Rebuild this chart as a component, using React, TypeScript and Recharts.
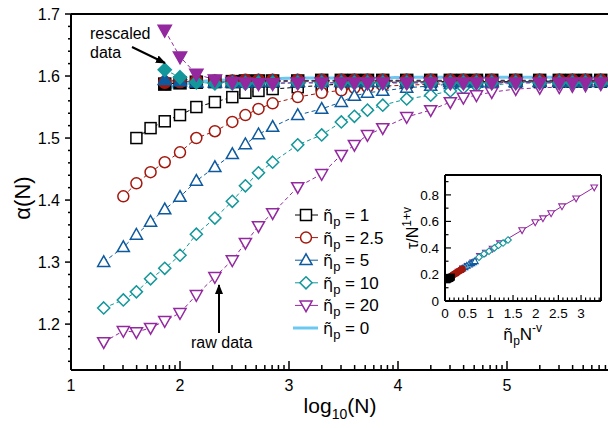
import React from "react";
import { ComposedChart, Line, XAxis, YAxis, ReferenceLine } from "recharts";

const FONT = "'Liberation Sans', Arial, Helvetica, sans-serif";
const ETA_FONT = "'DejaVu Sans', 'Liberation Sans', sans-serif";

// log10(N) positions shared by all series of the main plot
const logN = [
  1.3, 1.48, 1.6, 1.73, 1.86, 2.0, 2.15, 2.32, 2.48, 2.6, 2.72, 2.85, 3.08, 3.3, 3.48,
  3.6, 3.72, 3.86, 4.08, 4.3, 4.48, 4.6, 4.72, 4.86, 5.08, 5.3, 5.48, 5.6, 5.72, 5.86,
];

// raw data (open symbols)
const raw1 = [
  null, null, 1.5, 1.516, 1.527, 1.537, 1.55, 1.558, 1.566, 1.573, 1.576, 1.579, 1.582, 1.585, 1.587,
  1.589, 1.589, 1.59, 1.59, 1.591, 1.591, 1.591, 1.591, 1.591, 1.591, 1.591, 1.591, 1.591, 1.591, 1.591,
];
const raw25 = [
  null, 1.406, 1.427, 1.445, 1.461, 1.477, 1.5, 1.511, 1.526, 1.537, 1.547, 1.556, 1.566, 1.573, 1.577,
  1.581, 1.582, 1.584, 1.585, 1.587, 1.587, 1.589, 1.589, 1.589, 1.59, 1.59, 1.59, 1.59, 1.59, 1.59,
];
const raw5 = [
  1.3, 1.324, 1.344, 1.365, 1.385, 1.405, 1.431, 1.453, 1.474, 1.49, 1.506, 1.518, 1.537, 1.547, 1.558,
  1.568, 1.573, 1.576, 1.581, 1.584, 1.587, 1.589, 1.589, 1.59, 1.59, 1.592, 1.592, 1.592, 1.592, 1.592,
];
const raw10 = [
  1.226, 1.239, 1.252, 1.273, 1.29, 1.311, 1.345, 1.371, 1.398, 1.423, 1.444, 1.461, 1.489, 1.505, 1.526,
  1.535, 1.545, 1.553, 1.563, 1.569, 1.576, 1.581, 1.584, 1.585, 1.589, 1.59, 1.59, 1.592, 1.592, 1.592,
];
const raw20 = [
  1.171, 1.189, 1.187, 1.194, 1.205, 1.218, 1.247, 1.276, 1.303, 1.331, 1.358, 1.379, 1.421, 1.442, 1.473,
  1.489, 1.505, 1.516, 1.534, 1.545, 1.558, 1.565, 1.569, 1.574, 1.579, 1.581, 1.582, 1.584, 1.585, 1.587,
];

// rescaled data (filled symbols)
const res1 = [
  null, null, null, null, 1.587, 1.589, 1.59, 1.591, 1.591, 1.592, 1.592, 1.592, 1.592, 1.593, 1.593,
  1.593, 1.593, 1.593, 1.593, 1.593, 1.593, 1.593, 1.593, 1.593, 1.593, 1.593, 1.593, 1.593, 1.593, 1.593,
];
const res25 = [
  null, null, null, null, 1.59, 1.591, 1.592, 1.592, 1.592, 1.593, 1.593, 1.593, 1.593, 1.593, 1.593,
  1.593, 1.593, 1.593, 1.593, 1.593, 1.593, 1.593, 1.593, 1.593, 1.593, 1.593, 1.593, 1.593, 1.593, 1.593,
];
const res5 = [
  null, null, null, null, 1.594, 1.592, 1.59, 1.59, 1.59, 1.59, 1.591, 1.591, 1.591, 1.591, 1.591,
  1.591, 1.591, 1.591, 1.591, 1.591, 1.591, 1.591, 1.591, 1.591, 1.591, 1.591, 1.591, 1.591, 1.591, 1.591,
];
const res10 = [
  null, null, null, null, 1.61, 1.598, 1.59, 1.588, 1.588, 1.588, 1.589, 1.589, 1.589, 1.589, 1.589,
  1.589, 1.589, 1.589, 1.589, 1.589, 1.589, 1.589, 1.589, 1.589, 1.589, 1.589, 1.589, 1.589, 1.589, 1.589,
];
const res20 = [
  null, null, null, null, 1.674, 1.631, 1.603, 1.594, 1.59, 1.589, 1.588, 1.588, 1.589, 1.589, 1.589,
  1.589, 1.589, 1.589, 1.589, 1.589, 1.589, 1.589, 1.589, 1.589, 1.589, 1.589, 1.589, 1.589, 1.589, 1.589,
];
// eta_p = 0 reference curve
const eta0 = [
  null, null, null, null, 1.578, 1.586, 1.59, 1.593, 1.594, 1.595, 1.596, 1.596, 1.597, 1.597, 1.597,
  1.597, 1.597, 1.597, 1.598, 1.598, 1.598, 1.598, 1.598, 1.598, 1.598, 1.598, 1.598, 1.598, 1.598, 1.598,
];

// inset: eta_p N^-v vs tau/N^(1+v)
const in1X = [0.04, 0.06, 0.08, 0.1, 0.12, 0.14];
const in1Y = [0.16, 0.165, 0.168, 0.17, 0.175, 0.18];
const in25X = [0.15, 0.18, 0.21, 0.24, 0.27, 0.3, 0.33, 0.36, 0.38];
const in25Y = [0.19, 0.197, 0.203, 0.21, 0.217, 0.224, 0.23, 0.236, 0.24];
const in5X = [0.33, 0.38, 0.43, 0.48, 0.53, 0.58, 0.62, 0.66];
const in5Y = [0.235, 0.245, 0.255, 0.265, 0.275, 0.285, 0.292, 0.3];
const in10X = [0.75, 0.86, 0.97, 1.09, 1.18, 1.28, 1.39];
const in10Y = [0.33, 0.355, 0.375, 0.4, 0.42, 0.437, 0.46];
const in20X = [0.3, 0.4, 0.5, 0.62, 0.77, 0.9, 1.05, 1.21, 1.7, 1.99, 2.16, 2.34, 2.58, 2.89, 3.29];
const in20Y = [0.22, 0.245, 0.265, 0.29, 0.34, 0.365, 0.395, 0.435, 0.534, 0.594, 0.624, 0.662, 0.714, 0.774, 0.857];

const legendLabels = ["1", "2.5", "5", "10", "20", "0"];

const C = {
  black: "#000000",
  red: "#a3180d",
  blue: "#0d5a9e",
  teal: "#13979a",
  purple: "#93289f",
  light: "#6cc8f0",
};

const yTicks = [
  1.14, 1.16, 1.18, 1.2, 1.22, 1.24, 1.26, 1.28, 1.3, 1.32, 1.34, 1.36, 1.38, 1.4, 1.42, 1.44,
  1.46, 1.48, 1.5, 1.52, 1.54, 1.56, 1.58, 1.6, 1.62, 1.64, 1.66, 1.68, 1.7,
];
const xMajor = [1, 2, 3, 4, 5];
const xTicks: number[] = [];
xMajor.forEach((d) => {
  xTicks.push(d);
  for (let k = 2; k <= 9; k++) {
    const t = d + Math.log10(k);
    if (t < 5.97) xTicks.push(t);
  }
});

const inXTicks = [
  0, 0.1, 0.2, 0.3, 0.4, 0.5, 0.6, 0.7, 0.8, 0.9, 1, 1.1, 1.2, 1.3, 1.4, 1.5, 1.6, 1.7, 1.8,
  1.9, 2, 2.1, 2.2, 2.3, 2.4, 2.5, 2.6, 2.7, 2.8, 2.9, 3, 3.1, 3.2, 3.3, 3.4,
];
const inXMajor = [0, 0.5, 1, 1.5, 2, 2.5, 3];
const inYTicks = [0, 0.1, 0.2, 0.3, 0.4, 0.5, 0.6, 0.7, 0.8, 0.9];
const inYMajor = [0, 0.2, 0.4, 0.6, 0.8];

const isIn = (arr: number[], v: number) => arr.some((a) => Math.abs(a - v) < 1e-6);

const mainData = logN.map((x, i) => ({
  x,
  raw1: raw1[i],
  raw25: raw25[i],
  raw5: raw5[i],
  raw10: raw10[i],
  raw20: raw20[i],
  res1: res1[i],
  res25: res25[i],
  res5: res5[i],
  res10: res10[i],
  res20: res20[i],
  eta0: eta0[i],
}));

const pairs = (xs: number[], ys: number[]) => xs.map((x, i) => ({ x, y: ys[i] }));

type ShapeName = "square" | "circle" | "up" | "diamond" | "down";

const Marker = ({ cx, cy, shape, color, filled, size, sw }: any) => {
  const fill = filled ? color : "#fff";
  const h = size / 2;
  const common = { fill, stroke: color, strokeWidth: sw };
  switch (shape as ShapeName) {
    case "square":
      return <rect x={cx - h} y={cy - h} width={size} height={size} {...common} />;
    case "circle":
      return <circle cx={cx} cy={cy} r={h} {...common} />;
    case "up":
      return (
        <polygon
          points={`${cx},${cy - h * 1.15} ${cx - h * 1.1},${cy + h * 0.8} ${cx + h * 1.1},${cy + h * 0.8}`}
          {...common}
        />
      );
    case "down":
      return (
        <polygon
          points={`${cx},${cy + h * 1.15} ${cx - h * 1.1},${cy - h * 0.8} ${cx + h * 1.1},${cy - h * 0.8}`}
          {...common}
        />
      );
    case "diamond":
      return (
        <polygon
          points={`${cx},${cy - h * 1.1} ${cx + h * 1.1},${cy} ${cx},${cy + h * 1.1} ${cx - h * 1.1},${cy}`}
          {...common}
        />
      );
    default:
      return null;
  }
};

const makeDot = (id: string, shape: ShapeName, color: string, filled: boolean, size: number, sw: number) =>
  (props: any) => {
    const { cx, cy, index, value } = props;
    if (value == null || cx == null || cy == null || Number.isNaN(cy)) return <g key={`${id}-${index}`} />;
    return (
      <g key={`${id}-${index}`}>
        <Marker cx={cx} cy={cy} shape={shape} color={color} filled={filled} size={size} sw={sw} />
      </g>
    );
  };

const series: { key: string; shape: ShapeName; color: string; filled: boolean }[] = [
  { key: "raw1", shape: "square", color: C.black, filled: false },
  { key: "raw25", shape: "circle", color: C.red, filled: false },
  { key: "raw5", shape: "up", color: C.blue, filled: false },
  { key: "raw10", shape: "diamond", color: C.teal, filled: false },
  { key: "raw20", shape: "down", color: C.purple, filled: false },
  { key: "res1", shape: "square", color: C.black, filled: true },
  { key: "res25", shape: "circle", color: C.red, filled: true },
  { key: "res5", shape: "up", color: C.blue, filled: true },
  { key: "res10", shape: "diamond", color: C.teal, filled: true },
  { key: "res20", shape: "down", color: C.purple, filled: true },
];

const insetSeries: { id: string; data: { x: number; y: number }[]; shape: ShapeName; color: string; filled: boolean }[] = [
  { id: "i20", data: pairs(in20X, in20Y), shape: "down", color: C.purple, filled: false },
  { id: "i10", data: pairs(in10X, in10Y), shape: "diamond", color: C.teal, filled: false },
  { id: "i5", data: pairs(in5X, in5Y), shape: "up", color: C.blue, filled: false },
  { id: "i25", data: pairs(in25X, in25Y), shape: "circle", color: C.red, filled: true },
  { id: "i1", data: pairs(in1X, in1Y), shape: "square", color: C.black, filled: true },
];

const MainXTick = (props: any) => {
  const { x, y, payload } = props;
  const major = isIn(xMajor, payload.value);
  return (
    <g>
      <line x1={x} x2={x} y1={y} y2={y - (major ? 9 : 5)} stroke="#000" strokeWidth={1.5} />
      {major && (
        <text x={x} y={y + 21} textAnchor="middle" fontSize={16} fontFamily={FONT} fill="#000">
          {payload.value}
        </text>
      )}
    </g>
  );
};

const MainYTick = (props: any) => {
  const { x, y, payload } = props;
  const v = payload.value;
  const major = Math.abs(v * 10 - Math.round(v * 10)) < 1e-6;
  return (
    <g>
      <line x1={x} x2={x - (major ? 6 : 3)} y1={y} y2={y} stroke="#000" strokeWidth={1.5} />
      {major && (
        <text x={x - 11} y={y + 6} textAnchor="end" fontSize={16} fontFamily={FONT} fill="#000">
          {v.toFixed(1)}
        </text>
      )}
    </g>
  );
};

const InXTick = (props: any) => {
  const { x, y, payload } = props;
  const major = isIn(inXMajor, payload.value);
  return (
    <g>
      <line x1={x} x2={x} y1={y} y2={y - (major ? 6 : 3.5)} stroke="#000" strokeWidth={1.2} />
      {major && (
        <text x={x} y={y + 17} textAnchor="middle" fontSize={13.5} fontFamily={FONT} fill="#000">
          {String(payload.value)}
        </text>
      )}
    </g>
  );
};

const InYTick = (props: any) => {
  const { x, y, payload } = props;
  const major = isIn(inYMajor, payload.value);
  return (
    <g>
      <line x1={x} x2={x + (major ? 6 : 3.5)} y1={y} y2={y} stroke="#000" strokeWidth={1.2} />
      {major && (
        <text x={x - 6} y={y + 5} textAnchor="end" fontSize={13.5} fontFamily={FONT} fill="#000">
          {String(payload.value)}
        </text>
      )}
    </g>
  );
};

const legendShapes: { shape: ShapeName | "line"; color: string }[] = [
  { shape: "square", color: C.black },
  { shape: "circle", color: C.red },
  { shape: "up", color: C.blue },
  { shape: "diamond", color: C.teal },
  { shape: "down", color: C.purple },
  { shape: "line", color: C.light },
];

const Overlay = () => (
  <svg
    width={608}
    height={428}
    style={{ position: "absolute", left: 0, top: 0, pointerEvents: "none" }}
    fontFamily={FONT}
  >
    <defs>
      <marker id="arrowHead" markerWidth="10" markerHeight="8" refX="9" refY="4" orient="auto" markerUnits="userSpaceOnUse">
        <path d="M0,0 L10,4 L0,8 Z" fill="#000" />
      </marker>
    </defs>
    {/* axis titles */}
    <text transform="translate(30,198) rotate(-90)" textAnchor="middle" fontSize={22} fill="#000">
      α(N)
    </text>
    <text x={340} y={413} textAnchor="middle" fontSize={21} fill="#000">
      log<tspan fontSize={14} dy={6}>10</tspan>
      <tspan dy={-6}>(N)</tspan>
    </text>

    {/* annotations */}
    <text x={90} y={39} fontSize={16} fill="#000">rescaled</text>
    <text x={90} y={58} fontSize={16} fill="#000">data</text>
    <line x1={132} y1={47} x2={165} y2={63} stroke="#000" strokeWidth={2} markerEnd="url(#arrowHead)" />
    <text x={191} y={348} fontSize={16} fill="#000">raw data</text>
    <line x1={219} y1={333} x2={219} y2={285} stroke="#000" strokeWidth={2} markerEnd="url(#arrowHead)" />

    {/* legend */}
    {legendShapes.map((s, i) => {
      const y = 215 + i * 22.6;
      return (
        <g key={i}>
          {s.shape === "line" ? (
            <line x1={293} x2={318} y1={y} y2={y} stroke={s.color} strokeWidth={3} />
          ) : (
            <>
              <line x1={295} x2={318} y1={y} y2={y} stroke={s.color} strokeWidth={1} />
              <Marker cx={306} cy={y} shape={s.shape} color={s.color} filled={false} size={11} sw={1.5} />
            </>
          )}
          <text x={323} y={y + 6} fontSize={17} fill="#000">
            <tspan fontFamily={ETA_FONT} fontSize={16}>{"η\u0303"}</tspan>
            <tspan fontSize={13} dy={5}>p</tspan>
            <tspan dy={-5}>{` = ${legendLabels[i]}`}</tspan>
          </text>
        </g>
      );
    })}

    {/* inset axis titles */}
    <text transform="translate(418,228) rotate(-90)" textAnchor="middle" fontSize={16} fill="#000">
      τ/N<tspan fontSize={12} dy={-7}>1+v</tspan>
    </text>
    <text x={503} y={340} fontSize={17} fill="#000">
      <tspan fontFamily={ETA_FONT} fontSize={16}>{"η\u0303"}</tspan>
      <tspan fontSize={12} dy={5}>p</tspan>
      <tspan dy={-5}>N</tspan>
      <tspan fontSize={12} dy={-8}>-v</tspan>
    </text>
  </svg>
);

export default function App() {
  return (
    <div style={{ position: "absolute", left: 0, top: 0, width: 608, height: 428, overflow: "hidden", background: "#fff" }}>
      <ComposedChart width={620} height={428} data={mainData} margin={{ top: 14, right: 4, bottom: 0, left: 0 }}>
        <XAxis
          dataKey="x"
          type="number"
          domain={[1, 6]}
          ticks={xTicks}
          interval={0}
          tickSize={0}
          tickMargin={0}
          tickLine={false}
          tick={(p: any) => <MainXTick {...p} />}
          height={58}
          axisLine={{ stroke: "#000", strokeWidth: 2 }}
          allowDataOverflow
        />
        <YAxis
          type="number"
          domain={[1.126, 1.7]}
          ticks={yTicks}
          interval={0}
          tickSize={0}
          tickMargin={0}
          tickLine={false}
          tick={(p: any) => <MainYTick {...p} />}
          width={71}
          axisLine={{ stroke: "#000", strokeWidth: 2 }}
          allowDataOverflow
        />
        <ReferenceLine y={1.7} stroke="#000" strokeWidth={2} ifOverflow="visible" />
        {series.map((s) => (
          <Line
            key={s.key}
            dataKey={s.key}
            type="linear"
            stroke={s.color}
            strokeWidth={1}
            strokeDasharray="4 3"
            dot={makeDot(s.key, s.shape, s.color, s.filled, s.filled ? 12 : 11, 1.5)}
            activeDot={false}
            isAnimationActive={false}
          />
        ))}
        <Line
          dataKey="eta0"
          type="monotone"
          stroke={C.light}
          strokeWidth={3}
          dot={false}
          activeDot={false}
          isAnimationActive={false}
        />
      </ComposedChart>

      <div style={{ position: "absolute", left: 400, top: 165 }}>
        <ComposedChart width={208} height={185} margin={{ top: 10, right: 7, bottom: 0, left: 0 }}>
          <XAxis
            dataKey="x"
            type="number"
            domain={[0, 3.44]}
            ticks={inXTicks}
            interval={0}
            tickSize={0}
            tickMargin={0}
            tickLine={false}
            tick={(p: any) => <InXTick {...p} />}
            height={49}
            axisLine={{ stroke: "#000", strokeWidth: 2 }}
            allowDataOverflow
          />
          <YAxis
            type="number"
            domain={[0, 0.95]}
            ticks={inYTicks}
            interval={0}
            tickSize={0}
            tickMargin={0}
            tickLine={false}
            tick={(p: any) => <InYTick {...p} />}
            width={45}
            axisLine={{ stroke: "#000", strokeWidth: 2 }}
            allowDataOverflow
          />
          <ReferenceLine y={0.95} stroke="#000" strokeWidth={2} ifOverflow="visible" />
          <ReferenceLine x={3.44} stroke="#000" strokeWidth={2} ifOverflow="visible" />
          {insetSeries.map((s) => (
            <Line
              key={s.id}
              data={s.data}
              dataKey="y"
              type="linear"
              stroke={s.color}
              strokeWidth={1}
              dot={makeDot(s.id, s.shape, s.color, s.filled, 6, 1.1)}
              activeDot={false}
              isAnimationActive={false}
            />
          ))}
        </ComposedChart>
      </div>
      <Overlay />
    </div>
  );
}
